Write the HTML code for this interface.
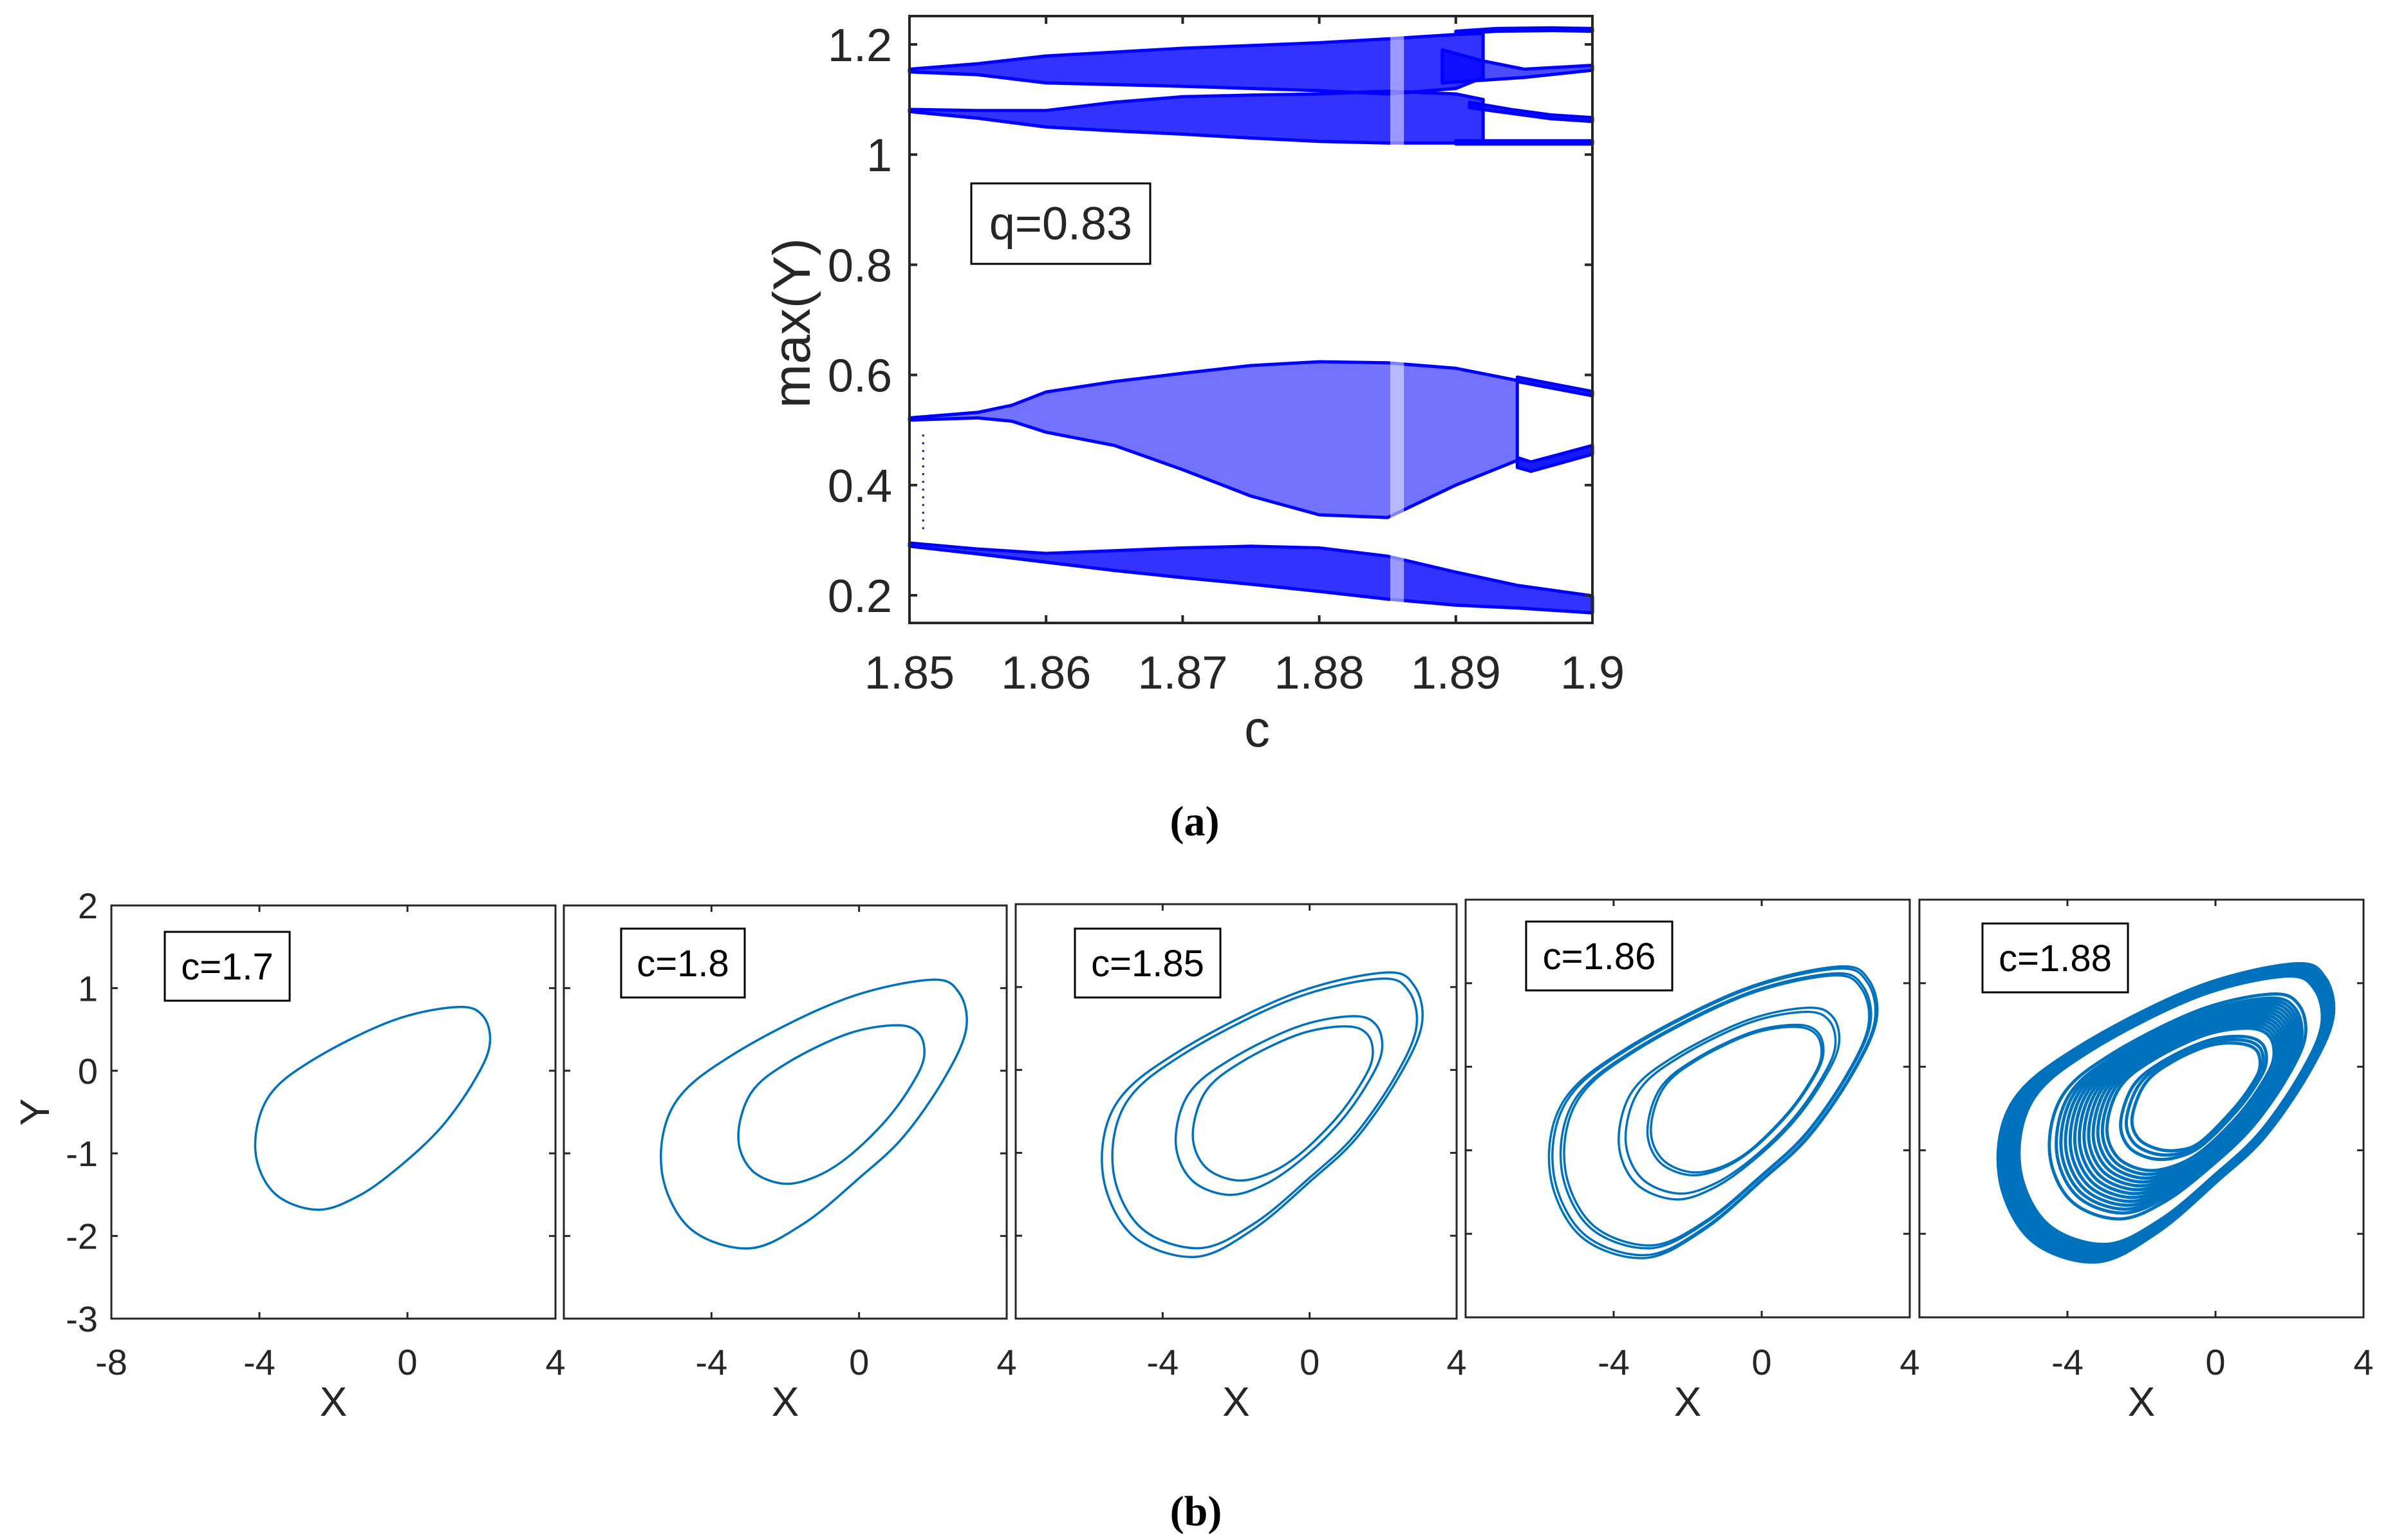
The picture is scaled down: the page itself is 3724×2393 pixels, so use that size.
<!DOCTYPE html>
<html><head><meta charset="utf-8"><style>
html,body{margin:0;padding:0;background:#fff;}
svg{display:block;}
text{font-family:"Liberation Sans",sans-serif;fill:#262626;}
</style></head><body>
<svg id="fig" width="3724" height="2393" viewBox="0 0 3724 2393" xmlns="http://www.w3.org/2000/svg">
<g id="topchart"></g>
<g id="bottompanels"></g>
</svg>
<script>
// ---------- Bifurcation diagram data ----------
const cTicks = [1.85,1.86,1.87,1.88,1.89,1.9];
const cTickLabels = ["1.85","1.86","1.87","1.88","1.89","1.9"];
const yTicks = [0.2,0.4,0.6,0.8,1.0,1.2];
const yTickLabels = ["0.2","0.4","0.6","0.8","1","1.2"];

const aMainC  = [1.85,1.855,1.86,1.865,1.87,1.875,1.88,1.885,1.89,1.892];
const aMainHi = [1.155,1.165,1.179,1.186,1.193,1.198,1.203,1.21,1.218,1.22];
const aMainLo = [1.15,1.145,1.13,1.127,1.124,1.12,1.116,1.11,1.12,1.14];
const aTopC  = [1.89,1.893,1.897,1.9];
const aTopHi = [1.224,1.229,1.23,1.229];
const aTopLo = [1.219,1.224,1.225,1.224];
const aLowC  = [1.889,1.892,1.895,1.9];
const aLowHi = [1.19,1.17,1.155,1.162];
const aLowLo = [1.13,1.135,1.14,1.153];

const bMainC  = [1.85,1.855,1.86,1.865,1.87,1.875,1.88,1.885,1.89,1.892];
const bMainHi = [1.082,1.08,1.08,1.095,1.105,1.108,1.11,1.115,1.11,1.1];
const bMainLo = [1.078,1.066,1.05,1.043,1.037,1.03,1.024,1.021,1.021,1.021];
const bTopC  = [1.891,1.894,1.897,1.9];
const bTopHi = [1.095,1.082,1.072,1.067];
const bTopLo = [1.085,1.075,1.065,1.06];
const bLowC  = [1.89,1.9];
const bLowHi = [1.025,1.025];
const bLowLo = [1.019,1.019];

const cMainC  = [1.85,1.855,1.8575,1.86,1.865,1.87,1.875,1.88,1.885,1.89,1.8945];
const cMainHi = [0.522,0.532,0.545,0.569,0.588,0.603,0.617,0.624,0.622,0.612,0.59];
const cMainLo = [0.518,0.522,0.516,0.496,0.472,0.428,0.38,0.346,0.341,0.4,0.445];
const cTopC  = [1.8945,1.9];
const cTopHi = [0.596,0.57];
const cTopLo = [0.588,0.562];
const cLowC  = [1.8945,1.8955,1.9];
const cLowHi = [0.45,0.442,0.472];
const cLowLo = [0.432,0.425,0.456];

const dMainC  = [1.85,1.855,1.86,1.865,1.87,1.875,1.88,1.885,1.89,1.8945,1.9];
const dMainHi = [0.295,0.284,0.276,0.281,0.286,0.289,0.286,0.271,0.242,0.218,0.199];
const dMainLo = [0.289,0.275,0.26,0.245,0.232,0.22,0.207,0.193,0.182,0.177,0.168];

const windowC = [1.8852,1.8862];
const transientC = [1.851];
const transientY = [[0.32,0.5]];

// ---------- Phase portrait data ----------
const pxTicks = [-8,-4,0,4];
const pxTickLabels = ["-8","-4","0","4"];
const pyTicks = [-3,-2,-1,0,1,2];
const pyTickLabels = ["-3","-2","-1","0","1","2"];
const outerLoopX = [1.9,2.7,2.9,2.3,1.2,0.0,-1.5,-3.0,-4.6,-5.35,-5.0,-3.4,-0.5];
const outerLoopY = [1.1,0.95,0.5,-0.1,-0.8,-1.3,-1.85,-2.15,-1.9,-1.2,-0.4,0.2,0.85];
const innerLoopX = [0.6,1.1,1.2,1.0,0.5,-0.4,-1.0,-1.6,-2.1,-2.25,-1.9,-1.2,-0.2];
const innerLoopY = [0.28,0.2,0.0,-0.2,-0.5,-0.9,-1.0,-0.98,-0.85,-0.6,-0.2,0.05,0.25];
const panelLabels = ["c=1.7","c=1.8","c=1.85","c=1.86","c=1.88"];
const loopsC170 = [0.6];
const loopsC180 = [1.0,0.33];
const loopsC185 = [1.09,1.0,0.45,0.3];
const loopsC186 = [1.12,1.09,1.02,0.99,0.52,0.46,0.27,0.24];
const loopsC188 = [1.16,1.14,1.12,1.1,1.08,1.06,1.04,1.02,1.0,0.98,0.72,0.66,0.62,0.58,0.54,0.5,0.46,0.42,0.38,0.34,0.3,0.26,0.22,0.1,0.05,0.0];

const NS = "http://www.w3.org/2000/svg";
function mk(tag, attrs, parent){
  const e = document.createElementNS(NS, tag);
  for (const k in attrs) e.setAttribute(k, attrs[k]);
  parent.appendChild(e);
  return e;
}

// ---------- Top chart ----------
const topG = document.getElementById('topchart');
const L=1413, R=2474, T=25, B=968;
const xS = c => L + (c-1.85)/0.05*(R-L);
const yS = v => 925 - (v-0.2)/1.0*(925-69);

function band(cArr, hiArr, loArr, name, op){
  let d = "M";
  cArr.forEach((c,i)=>{ d += (i?" L":"") + xS(c).toFixed(1)+","+yS(hiArr[i]).toFixed(1); });
  for (let i=cArr.length-1;i>=0;i--) d += " L"+xS(cArr[i]).toFixed(1)+","+yS(loArr[i]).toFixed(1);
  d += " Z";
  const p = mk('path',{d:d,fill:'#0000ff','fill-opacity':op,stroke:'#0000ff','stroke-width':5,'stroke-linejoin':'round'},topG);
  
  
}
band(aMainC,aMainHi,aMainLo,'branch-a-chaotic',0.8);
band(aTopC,aTopHi,aTopLo,'branch-a-upper',0.9);
band(aLowC,aLowHi,aLowLo,'branch-a-lower',0.7);
band(bMainC,bMainHi,bMainLo,'branch-b-chaotic',0.8);
band(bTopC,bTopHi,bTopLo,'branch-b-upper',0.9);
band(bLowC,bLowHi,bLowLo,'branch-b-lower',0.9);
band(cMainC,cMainHi,cMainLo,'branch-c-chaotic',0.55);
band(cTopC,cTopHi,cTopLo,'branch-c-upper',0.9);
band(cLowC,cLowHi,cLowLo,'branch-c-lower',0.9);
band(dMainC,dMainHi,dMainLo,'branch-d-chaotic',0.8);
{
  const w = mk('rect',{x:xS(windowC[0]),y:T+3,width:xS(windowC[1])-xS(windowC[0]),height:B-T-6,fill:'#fff','fill-opacity':0.5},topG);
  
  
}
transientC.forEach((c,i)=>{
  const l = mk('line',{x1:xS(c),x2:xS(c),y1:yS(transientY[i][0]),y2:yS(transientY[i][1]),stroke:'#0000ff','stroke-width':3,'stroke-dasharray':'3 9'},topG);
  
  
});
{
  const f = mk('rect',{x:L,y:T,width:R-L,height:B-T,fill:'none',stroke:'#262626','stroke-width':4},topG);
  
  
}
cTicks.forEach((c,i)=>{
  const x = xS(c);
  mk('line',{x1:x,x2:x,y1:B,y2:B-12,stroke:'#262626','stroke-width':4},topG);
  mk('line',{x1:x,x2:x,y1:T,y2:T+12,stroke:'#262626','stroke-width':4},topG);
  const t = mk('text',{x:x,y:1070,'font-size':72,'text-anchor':'middle'},topG);
  t.textContent = cTickLabels[i];
  
  
});
yTicks.forEach((v,i)=>{
  const y = yS(v);
  mk('line',{x1:L,x2:L+12,y1:y,y2:y,stroke:'#262626','stroke-width':4},topG);
  mk('line',{x1:R,x2:R-12,y1:y,y2:y,stroke:'#262626','stroke-width':4},topG);
  const t = mk('text',{x:1386,y:y+26,'font-size':72,'text-anchor':'end'},topG);
  t.textContent = yTickLabels[i];
  
  
});
{
  let t = mk('text',{x:1953,y:1160,'font-size':80,'text-anchor':'middle'},topG);
  t.textContent = 'c';
  
  
  t = mk('text',{x:0,y:0,'font-size':82,'text-anchor':'middle',transform:'translate(1258,502) rotate(-90)'},topG);
  t.textContent = 'max(Y)';
  
  
  const bx = mk('rect',{x:1509,y:285,width:278,height:125,fill:'#fff',stroke:'#000','stroke-width':3},topG);
  
  
  t = mk('text',{x:1648,y:372,'font-size':72,'text-anchor':'middle'},topG);
  t.textContent = 'q=0.83';
  
  
  t = mk('text',{x:1856,y:1298,'font-size':66,'text-anchor':'middle','font-weight':'bold',style:'font-family:"Liberation Serif",serif;fill:#000'},topG);
  t.textContent = '(a)';
  
  
}

// ---------- Bottom panels ----------
const botG = document.getElementById('bottompanels');
const panels = [
  {l:173,r:863,t:1407,b:2049,loops:loopsC170,bx:256,by:1448,bw:194,sw:3.5},
  {l:876,r:1564,t:1407,b:2049,loops:loopsC180,bx:965,by:1443,bw:192,sw:3.5},
  {l:1578,r:2263,t:1405,b:2049,loops:loopsC185,bx:1670,by:1443,bw:226,sw:3.5},
  {l:2277,r:2967,t:1398,b:2047,loops:loopsC186,bx:2371,by:1432,bw:227,sw:3.5},
  {l:2982,r:3672,t:1398,b:2047,loops:loopsC188,bx:3080,by:1435,bw:226,sw:5}
];
function catmull(pts){
  const n = pts.length; let d = "M"+pts[0][0].toFixed(1)+","+pts[0][1].toFixed(1);
  for (let i=0;i<n;i++){
    const p0=pts[(i-1+n)%n], p1=pts[i], p2=pts[(i+1)%n], p3=pts[(i+2)%n];
    const c1=[p1[0]+(p2[0]-p0[0])/6, p1[1]+(p2[1]-p0[1])/6];
    const c2=[p2[0]-(p3[0]-p1[0])/6, p2[1]-(p3[1]-p1[1])/6];
    d += " C"+c1[0].toFixed(1)+","+c1[1].toFixed(1)+" "+c2[0].toFixed(1)+","+c2[1].toFixed(1)+" "+p2[0].toFixed(1)+","+p2[1].toFixed(1);
  }
  return d+" Z";
}
panels.forEach((P,pi)=>{
  const g = mk('g',{},botG);
  
  
  const sx = v => P.l + (v+8)/12*(P.r-P.l);
  const sy = v => P.t + (2-v)/5*(P.b-P.t);
  P.loops.forEach(s=>{
    const pts = outerLoopX.map((ox,i)=>[sx(innerLoopX[i]+s*(ox-innerLoopX[i])), sy(innerLoopY[i]+s*(outerLoopY[i]-innerLoopY[i]))]);
    const p = mk('path',{d:catmull(pts),fill:'none',stroke:'#0072BD','stroke-width':P.sw},g);
    
    
  });
  const f = mk('rect',{x:P.l,y:P.t,width:P.r-P.l,height:P.b-P.t,fill:'none',stroke:'#262626','stroke-width':3},g);
  
  
  pxTicks.forEach((v,i)=>{
    const x=sx(v);
    mk('line',{x1:x,x2:x,y1:P.b,y2:P.b-10,stroke:'#262626','stroke-width':3},g);
    mk('line',{x1:x,x2:x,y1:P.t,y2:P.t+10,stroke:'#262626','stroke-width':3},g);
    if (pi>0 && i===0) return;
    const t = mk('text',{x:x,y:2136,'font-size':56,'text-anchor':'middle'},g);
    t.textContent = pxTickLabels[i];
    
    
  });
  pyTicks.forEach((v,i)=>{
    const y=sy(v);
    mk('line',{x1:P.l,x2:P.l+10,y1:y,y2:y,stroke:'#262626','stroke-width':3},g);
    mk('line',{x1:P.r,x2:P.r-10,y1:y,y2:y,stroke:'#262626','stroke-width':3},g);
    if (pi===0){
      const t = mk('text',{x:152,y:y+20,'font-size':56,'text-anchor':'end'},g);
      t.textContent = pyTickLabels[i];
      
      
    }
  });
  const t = mk('text',{x:(sx(-4)+sx(0))/2,y:2200,'font-size':64,'text-anchor':'middle'},g);
  t.textContent = 'X';
  
  
  const bx = mk('rect',{x:P.bx,y:P.by,width:P.bw,height:107,fill:'#fff',stroke:'#000','stroke-width':3},g);
  
  
  const lt = mk('text',{x:P.bx+P.bw/2,y:P.by+74,'font-size':58,'text-anchor':'middle',style:'fill:#000'},g);
  lt.textContent = panelLabels[pi];
  
  
});
{
  let t = mk('text',{x:0,y:0,'font-size':64,'text-anchor':'middle',transform:'translate(76,1728) rotate(-90)'},botG);
  t.textContent = 'Y';
  
  
  t = mk('text',{x:1858,y:2370,'font-size':66,'text-anchor':'middle','font-weight':'bold',style:'font-family:"Liberation Serif",serif;fill:#000'},botG);
  t.textContent = '(b)';
  
  
}
</script>
</body></html>
